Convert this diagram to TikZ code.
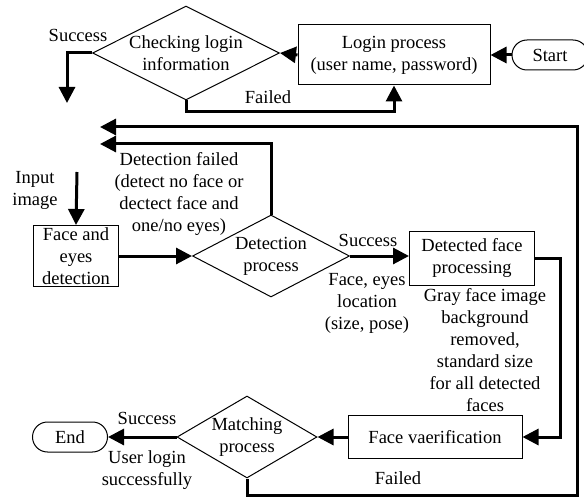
\documentclass[tikz,border=0pt]{standalone}
\usepackage{fontspec}
\setmainfont{Liberation Serif}
\usetikzlibrary{positioning,arrows.meta,shapes.geometric}

\tikzset{
  box/.style={draw, line width=1pt, align=center, inner sep=0pt},
  term/.style={draw, line width=1pt, rounded corners=15pt, inner sep=0pt, minimum height=30pt},
  dia/.style={draw, diamond, line width=1pt, inner sep=0pt},
  arr/.style={line width=3pt, -{Triangle[length=16pt,width=16pt]}},
  txt/.style={align=center, inner sep=0pt}
}

\begin{document}
\begin{tikzpicture}[x=1pt, y=-1pt, font=\fontsize{18.5pt}{22pt}\selectfont]
\useasboundingbox (0,0) rectangle (584,500);

% Login part
\node[term, minimum width=76pt] (start) at (550,55) {Start};
\node[box, minimum width=192pt, minimum height=60pt] (login) at (394,55) {Login process\\(user name, password)};
\node[dia, minimum width=187pt, minimum height=94pt, label={[txt]center:{Checking login\\information}}] (check) at (186,53) {};

\coordinate (succout) at (67,103);
\coordinate (failc) at (186,112);

\draw[arr] (start) -- (login);
\draw[arr] (login.west) -- (check.east);
\draw[arr] (check.west) -| (succout);
\draw[arr] (check.south) -- (failc) -| (login.south);
\node[txt] (succ1) at (78,35) {Success};
\node[txt] (fail1) at (268,97) {Failed};

% Detection part
\coordinate (input) at (77,172);
\node[txt] (inlbl) at (35,190) {Input\\image};
\node[box, minimum width=85pt, minimum height=61pt] (face) at (76,256) {Face and\\eyes\\detection};
\node[dia, minimum width=157pt, minimum height=82pt, label={[txt]center:{Detection\\process}}] (detect) at (271,256) {};
\node[box, minimum width=125pt, minimum height=54pt] (proc) at (472,258) {Detected face\\processing};

\coordinate (detfail) at (100,144);
\coordinate (pbend) at (560,437);

\draw[arr] (input) -- (face.north);
\draw[arr] (face.east) -- (detect.west);
\draw[arr] (detect.north) |- (detfail);
\draw[arr] (detect.east) -- (proc.west |- detect.east);
\node[txt] (dfail) at (179,193.5) {Detection failed\\(detect no face or\\dectect face and\\one/no eyes)};
\node[txt] (succ2) at (368,240) {Success};
\node[txt] (loc) at (367,303) {Face, eyes\\location\\(size, pose)};
\node[txt] (gray) at (485,350) {Gray face image\\background\\removed,\\standard size\\for all detected\\faces};

% Matching part
\node[box, minimum width=174pt, minimum height=43pt] (verif) at (435,437) {Face vaerification};
\node[dia, minimum width=140pt, minimum height=82pt, label={[txt]center:{Matching\\process}}] (match) at (247,437) {};
\node[term, minimum width=75pt] (end) at (70,437) {End};

\coordinate (loopA) at (577,495);
\coordinate (loopB) at (577,127);
\coordinate (loopend) at (100,127);

\draw[arr] (proc.east) -| (pbend) -- (verif.east);
\draw[arr] (verif.west) -- (match.east);
\draw[arr] (match.west) -- (end.east);
\draw[arr] (match.south) |- (loopA) -- (loopB) -- (loopend);
\node[txt] (succ3) at (147,418) {Success};
\node[txt] (ulog) at (147,470) {User login\\successfully};
\node[txt] (fail2) at (398,478) {Failed};
\end{tikzpicture}
\end{document}
